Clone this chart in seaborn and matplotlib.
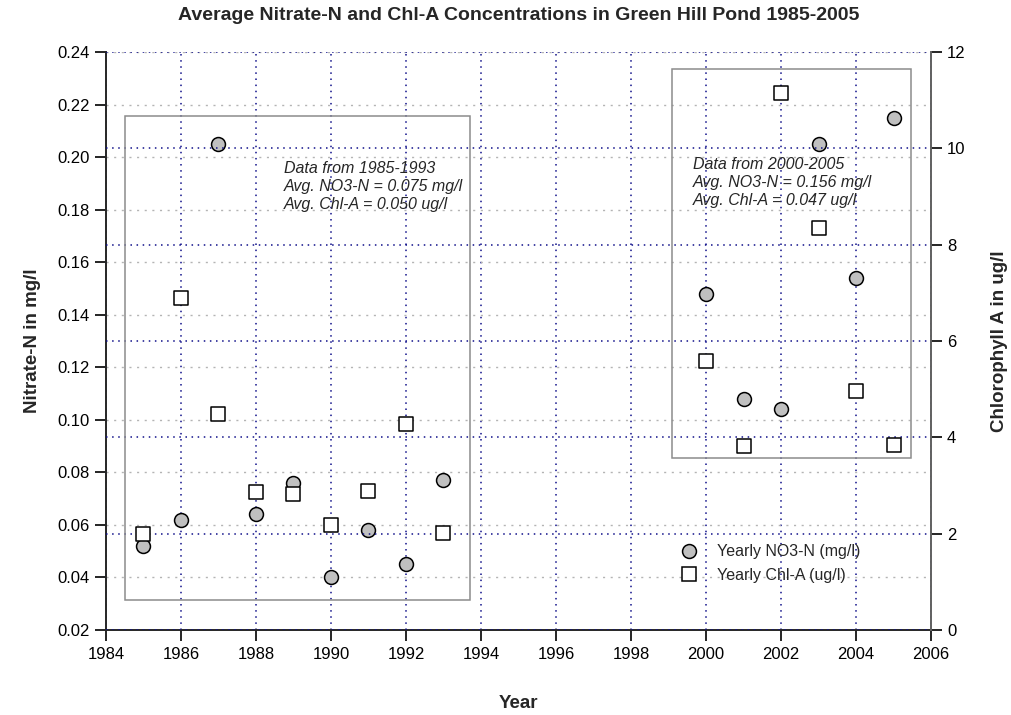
import numpy as np
import pandas as pd
import matplotlib
matplotlib.use('Agg')
import matplotlib.pyplot as plt
import seaborn as sns
from matplotlib.patches import Rectangle
from matplotlib.lines import Line2D

# yearly values
years = [1985, 1986, 1987, 1988, 1989, 1990, 1991, 1992, 1993,
         2000, 2001, 2002, 2003, 2004, 2005]
no3_n = [0.052, 0.062, 0.205, 0.064, 0.076, 0.040, 0.058, 0.045, 0.077,
         0.148, 0.108, 0.104, 0.205, 0.154, 0.215]
chl_a = [1.99, 6.89, 4.48, 2.87, 2.82, 2.18, 2.89, 4.27, 2.02,
         5.59, 3.83, 11.15, 8.34, 4.96, 3.85]

note_early = ['Data from 1985-1993', 'Avg. NO3-N = 0.075 mg/l', 'Avg. Chl-A = 0.050 ug/l']
note_late = ['Data from 2000-2005', 'Avg. NO3-N = 0.156 mg/l', 'Avg. Chl-A = 0.047 ug/l']

df = pd.DataFrame({'year': years, 'no3': no3_n, 'chla': chl_a})

sns.set_style('ticks')
plt.rcParams['font.family'] = ['Liberation Sans', 'DejaVu Sans']

fig = plt.figure(figsize=(10.11, 7.15), dpi=100)
ax = fig.add_axes([0.1048, 0.1189, 0.8161, 0.8084])
ax2 = ax.twinx()

navy = '#10108a'

# grids
ax.set_axisbelow(True)
ax.yaxis.grid(True, color='#b4b4b4', linestyle=(0, (1.5, 4)), linewidth=1.0)
ax.xaxis.grid(True, color=navy, linestyle=(0, (1, 3)), linewidth=1.1)
ax2.set_axisbelow(True)
ax2.yaxis.grid(True, color=navy, linestyle=(0, (1, 3)), linewidth=1.1)

sns.scatterplot(data=df, x='year', y='no3', ax=ax, marker='o', s=100,
                color='#c0c0c0', edgecolor='black', linewidth=1.1, zorder=3)
sns.scatterplot(data=df, x='year', y='chla', ax=ax2, marker='s', s=95,
                color='white', edgecolor='black', linewidth=1.1, zorder=3)

ax.set_xlim(1984, 2006)
ax.set_ylim(0.02, 0.24)
ax2.set_ylim(0, 12)
ax.set_xticks(np.arange(1984, 2007, 2))
ax.set_yticks(np.arange(0.02, 0.2401, 0.02))
ax.set_yticklabels(['%.2f' % v for v in np.arange(0.02, 0.2401, 0.02)])
ax2.set_yticks(np.arange(0, 13, 2))

for a in (ax, ax2):
    a.spines['top'].set_visible(False)
    a.tick_params(axis='both', direction='out', length=8, width=1.2,
                  labelsize=12, colors='black')
ax.tick_params(axis='x', pad=4)
ax.spines['left'].set_linewidth(1.4)
ax.spines['bottom'].set_linewidth(1.4)
ax.spines['right'].set_visible(False)
ax2.spines['left'].set_visible(False)
ax2.spines['bottom'].set_visible(False)
ax2.spines['right'].set_color('#606060')
ax2.spines['right'].set_linewidth(1.4)

ax.set_xlabel('Year', fontsize=13.5, fontweight='bold', labelpad=24)
ax.set_ylabel('Nitrate-N in mg/l', fontsize=13.5, fontweight='bold', labelpad=12)
ax2.set_ylabel('Chlorophyll A in ug/l', fontsize=13.5, fontweight='bold',
               labelpad=18, rotation=90)
ax.set_title('Average Nitrate-N and Chl-A Concentrations in Green Hill Pond 1985-2005',
             fontsize=14, fontweight='bold', pad=23)

# gray boxes around the two periods
ax2.add_patch(Rectangle((1984.51, 0.0314), 9.2, 0.1842, transform=ax.transData,
                        fill=False, edgecolor='#8c8c8c', linewidth=1.1, zorder=1))
ax2.add_patch(Rectangle((1999.09, 0.0855), 6.38, 0.148, transform=ax.transData,
                        fill=False, edgecolor='#8c8c8c', linewidth=1.1, zorder=1))

ax2.text(1988.75, 0.1985, '\n'.join(note_early), transform=ax.transData,
         fontsize=11.5, style='italic', va='top', ha='left', linespacing=1.25, zorder=4)
ax2.text(1999.65, 0.2000, '\n'.join(note_late), transform=ax.transData,
         fontsize=11.5, style='italic', va='top', ha='left', linespacing=1.25, zorder=4)

handles = [Line2D([], [], linestyle='none', marker='o', markersize=10,
                  markerfacecolor='#c0c0c0', markeredgecolor='black', markeredgewidth=1.1),
           Line2D([], [], linestyle='none', marker='s', markersize=9.5,
                  markerfacecolor='white', markeredgecolor='black', markeredgewidth=1.1)]
ax2.legend(handles, ['Yearly NO3-N (mg/l)', 'Yearly Chl-A (ug/l)'],
           loc='center left', bbox_to_anchor=(0.675, 0.115), frameon=False,
           fontsize=11.5, handlelength=1.5, handletextpad=1.0, labelspacing=0.55)

fig.savefig('out.png', dpi=100)
